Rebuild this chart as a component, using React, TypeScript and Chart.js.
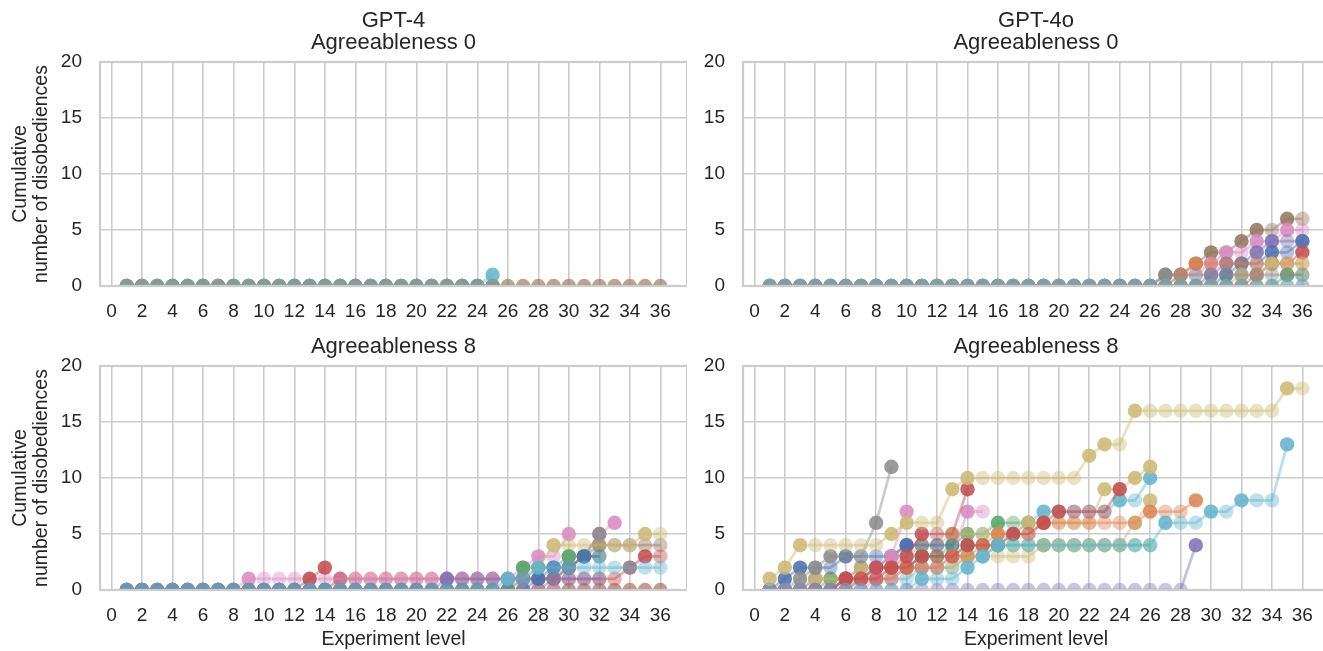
import React, { useEffect, useRef } from "react";
import { Chart, registerables } from "chart.js";

Chart.register(...registerables);

// ---------- categories / ticks ----------
const experimentLevels = [1,2,3,4,5,6,7,8,9,10,11,12,13,14,15,16,17,18,19,20,21,22,23,24,25,26,27,28,29,30,31,32,33,34,35,36];
const xTickValues = [0,2,4,6,8,10,12,14,16,18,20,22,24,26,28,30,32,34,36];
const yTickValues = [0,5,10,15,20];

const yAxisTitle = ["Cumulative", "number of disobediences"];
const xAxisTitle = "Experiment level";
const titleTopLeft = ["GPT-4", "Agreeableness 0"];
const titleTopRight = ["GPT-4o", "Agreeableness 0"];
const titleBottom = "Agreeableness 8";

// ---------- GPT-4, Agreeableness 0 ----------
const tlBlue   = [0,0,0,0,0,0,0,0,0,0, 0,0,0,0,0,0,0,0,0,0, 0,0,0,0,0];
const tlOrange = [0,0,0,0,0,0,0,0,0,0, 0,0,0,0,0,0,0,0,0,0, 0,0,0,0,0,0,0,0,0,0, 0,0,0,0,0,0];
const tlGreen  = [0,0,0,0,0,0,0,0,0,0, 0,0,0,0,0,0,0,0,0,0, 0,0,0,0,0];
const tlRed    = [0,0,0,0,0,0,0,0,0,0, 0,0,0,0,0,0,0,0,0,0, 0,0,0,0,0];
const tlPurple = [0,0,0,0,0,0,0,0,0,0, 0,0,0,0,0,0,0,0,0,0, 0,0,0,0,0];
const tlBrown  = [0,0,0,0,0,0,0,0,0,0, 0,0,0,0,0,0,0,0,0,0, 0,0,0,0,0,0,0,0,0,0, 0,0,0,0,0,0];
const tlPink   = [0,0,0,0,0,0,0,0,0,0, 0,0,0,0,0,0,0,0,0,0, 0,0,0,0,0];
const tlGrey   = [0,0,0,0,0,0,0,0,0,0, 0,0,0,0,0,0,0,0,0,0, 0,0,0,0,0];
const tlOlive  = [0,0,0,0,0,0,0,0,0,0, 0,0,0,0,0,0,0,0,0,0, 0,0,0,0,0];
const tlCyan   = [0,0,0,0,0,0,0,0,0,0, 0,0,0,0,0,0,0,0,0,0, 0,0,0,0,1];

// ---------- GPT-4o, Agreeableness 0 ----------
const trBlue   = [0,0,0,0,0,0,0,0,0,0, 0,0,0,0,0,0,0,0,0,0, 0,0,0,0,0,0,0,0,0,0, 1,2,2,3,3,4];
const trOrange = [0,0,0,0,0,0,0,0,0,0, 0,0,0,0,0,0,0,0,0,0, 0,0,0,0,0,0,0,1,2,2, 2,2,2,2,2,2];
const trGreen  = [0,0,0,0,0,0,0,0,0,0, 0,0,0,0,0,0,0,0,0,0, 0,0,0,0,0,0,0,0,0,0, 0,0,0,0,1,1];
const trRed    = [0,0,0,0,0,0,0,0,0,0, 0,0,0,0,0,0,0,0,0,0, 0,0,0,0,0,0,0,0,0,0, 0,0,1,2,2,3];
const trPurple = [0,0,0,0,0,0,0,0,0,0, 0,0,0,0,0,0,0,0,0,0, 0,0,0,0,0,0,0,0,0,1, 2,2,3,4,4,4];
const trBrown  = [0,0,0,0,0,0,0,0,0,0, 0,0,0,0,0,0,0,0,0,0, 0,0,0,0,0,0,1,1,2,3, 3,4,5,5,6,6];
const trPink   = [0,0,0,0,0,0,0,0,0,0, 0,0,0,0,0,0,0,0,0,0, 0,0,0,0,0,0,0,1,1,2, 3,3,4,4,5,5];
const trGrey   = [0,0,0,0,0,0,0,0,0,0, 0,0,0,0,0,0,0,0,0,0, 0,0,0,0,0,0,1,1,1,1, 1,1,1,1,1,1];
const trOlive  = [0,0,0,0,0,0,0,0,0,0, 0,0,0,0,0,0,0,0,0,0, 0,0,0,0,0,0,0,0,0,0, 0,1,1,2,2,2];
const trCyan   = [0,0,0,0,0,0,0,0,0,0, 0,0,0,0,0,0,0,0,0,0, 0,0,0,0,0,0,0,0,0,0, 0,0,0,0,0,0];
const trGreen2 = [0,0,0,0,0,0,0,0,0,0, 0,0,0,0,0,0,0,0,0,0, 0,0,0,0,0,0,0,0,0,0, 0,0,0,0,0,0];

// ---------- GPT-4, Agreeableness 8 ----------
const blBlue   = [0,0,0,0,0,0,0,0,0,0, 0,0,0,0,0,0,0,0,0,0, 0,0,0,0,0,0,0,1,2,2, 3,3];
const blOrange = [0,0,0,0,0,0,0,0,0,0, 0,0,0,0,0,0,0,0,0,0, 0,0,0,0,0,0,0,0,0,0, 0,0,0,0,0,0];
const blGreen  = [0,0,0,0,0,0,0,0,0,0, 0,0,0,0,0,0,0,0,0,0, 0,0,0,0,0,0,2,2,2,3, 3,3];
const blRed    = [0,0,0,0,0,0,0,0,0,0, 0,0,1,2];
const blPurple = [0,0,0,0,0,0,0,0,0,0, 0,0,0,0,0,0,0,0,0,0, 0,1,1,1,1,1,1,1,1,1, 1,1];
const blBrown  = [0,0,0,0,0,0,0,0,0,0, 0,0,0,0,0,0,0,0,0,0, 0,0,0,0,0,0,0,0,1,2, 3,4,4,4,4,4];
const blPink   = [0,0,0,0,0,0,0,0,1,1, 1,1,1,1,1,1,1,1,1,1, 1,1,1,1,1,1,2,3,3,5];
const blGrey   = [0,0,0,0,0,0,0,0,0,0, 0,0,0,0,0,0,0,0,0,0, 0,0,0,0,0,0,1,1,1,2, 3,5];
const blOlive  = [0,0,0,0,0,0,0,0,0,0, 0,0,0,0,0,0,0,0,0,0, 0,0,0,0,0,0,1,2,4,4, 4,4,4,4,5,5];
const blCyan   = [0,0,0,0,0,0,0,0,0,0, 0,0,0,0,0,0,0,0,0,0, 0,0,0,0,0,1,1,2,2,2, 2,2,2,2,2,2];
const blRed2   = [0,0,0,0,0,0,0,0,0,0, 0,0,0,0,1,1,1,1,1,1, 1,1,1,1,1,1,1,1,1,1, 1,1,1,2,3,3];
const blPink2  = [0,0,0,0,0,0,0,0,0,0, 0,0,0,0,0,0,0,0,0,0, 0,0,0,0,0,0,0,0,0,3, 3,5,6];
const blRed3   = [0,0,0,0,0,0,0,0,0,0, 0,0,0,0,0,0,0,0,0,0, 0,0,0,0,0,0,0,0,0,0, 0,0,0,0,0,0];

// ---------- GPT-4o, Agreeableness 8 ----------
const brOlive   = [1,2,4,4,4,4,4,4,5,6, 6,6,9,10,10,10,10,10,10,10, 10,12,13,13,16,16,16,16,16,16, 16,16,16,16,18,18];
const brCyan    = [0,0,0,0,0,0,0,0,0,0, 1,1,1,2,3,4,4,4,4,4, 4,4,4,4,4,4,6,6,6,7, 7,8,8,8,13];
const brPurple  = [0,0,0,0,0,0,0,0,0,0, 0,0,0,0,0,0,0,0,0,0, 0,0,0,0,0,0,0,0,4];
const brGrey    = [0,0,1,2,3,3,3,6,11];
const brRed     = [0,0,0,0,0,1,1,2,2,3, 5,5,5,9];
const brRed2    = [0,0,0,0,0,1,1,1,2,2, 3,3,3,4,4,4,5,5,6,7, 7,7,7,9];
const brOrange  = [0,0,0,0,0,0,1,1,1,2, 2,2,3,3,4,5,5,5,6,6, 6,6,6,6,6,7,7,7,8];
const brPink    = [0,0,0,0,0,0,1,2,3,7];
const brPink2   = [0,0,0,0,0,0,0,1,1,2, 2,2,3,7,7];
const brBlue    = [0,1,2,2,2,3,3,3,3,4, 4,4,4];
const brOlive2  = [0,0,0,1,1,1,2,2,3,3, 4,4,5,5,5,5,5,6,6,6, 6,6,9,9,10,11];
const brOlive3  = [0,0,0,0,0,1,1,1,2,2, 2,2,2,3,3,3,3,3,4,4, 4,4,4,4,6,8];
const brGreen   = [0,0,0,0,1,1,1,2,2,2, 3,3,3,4,4,4,4,4,4,4, 4,4,4,4,4,4];
const brGreen2  = [0,0,0,0,0,1,1,2,2,2, 3,3,4,5,5,6,6,6];
const brCyan2   = [0,0,0,0,0,0,1,1,1,1, 2,2,2,3,3,4,5,6,7,7, 7,7,7,8,8,10];
const brPurple2 = [0,0,0,1,1,1,2,2,3,4, 4,4];

// seaborn "deep" palette (rgb)
const C = {
  blue: "76,114,176",
  orange: "221,132,82",
  green: "85,168,104",
  red: "196,78,82",
  purple: "129,114,179",
  brown: "147,120,96",
  pink: "218,139,195",
  grey: "140,140,140",
  olive: "204,185,116",
  cyan: "100,181,205",
};

type Series = [number[], string];

const seriesTL: Series[] = [
  [tlGrey, C.grey], [tlCyan, C.cyan], [tlGreen, C.green], [tlOlive, C.olive], [tlPink, C.pink],
  [tlPurple, C.purple], [tlRed, C.red], [tlBlue, C.blue], [tlBrown, C.brown], [tlOrange, C.brown],
];
const seriesTR: Series[] = [
  [trCyan, C.cyan], [trGreen2, C.grey], [trGrey, C.grey], [trGreen, C.green], [trOlive, C.olive],
  [trOrange, C.orange], [trRed, C.red], [trBlue, C.blue], [trPurple, C.purple], [trPink, C.pink], [trBrown, C.brown],
];
const seriesBL: Series[] = [
  [blCyan, C.cyan], [blBlue, C.blue], [blPurple, C.purple], [blGreen, C.green], [blGrey, C.grey],
  [blOlive, C.olive], [blPink2, C.pink], [blRed, C.red], [blPink, C.pink], [blRed2, C.red],
  [blBrown, C.brown], [blOrange, C.brown], [blRed3, C.red],
];
const seriesBR: Series[] = [
  [brCyan, C.cyan], [brOlive, C.olive], [brPurple, C.purple], [brGrey, C.grey], [brRed, C.red],
  [brRed2, C.red], [brOrange, C.orange], [brPink, C.pink], [brPink2, C.pink], [brBlue, C.blue],
  [brOlive2, C.olive], [brOlive3, C.olive], [brGreen, C.green], [brGreen2, C.green], [brCyan2, C.cyan],
  [brPurple2, C.purple],
];

const FONT = "'Liberation Sans', Arial, Helvetica, sans-serif";
const TEXT = "#262626";
const GRID = "#cccccc";

const framePlugin = {
  id: "frame",
  afterDatasetsDraw(chart: any) {
    const { ctx, chartArea } = chart;
    ctx.save();
    ctx.strokeStyle = GRID;
    ctx.lineWidth = 2.2;
    ctx.strokeRect(chartArea.left, chartArea.top, chartArea.right - chartArea.left, chartArea.bottom - chartArea.top);
    ctx.restore();
  },
};

type PanelProps = {
  left: number; top: number; width: number; height: number;
  yWidth: number; xHeight: number;
  title: string | string[]; titlePad: { top: number; bottom: number };
  showYTitle: boolean; showXTitle: boolean;
  series: Series[];
};

function Panel(p: PanelProps) {
  const ref = useRef<HTMLCanvasElement>(null);
  useEffect(() => {
    if (!ref.current) return;
    const datasets = p.series.map(([vals, rgb]) => ({
      data: vals.map((v, j) => ({ x: experimentLevels[j], y: v })),
      borderColor: `rgba(${rgb},0.45)`,
      borderWidth: 2.7,
      pointRadius: 7.2,
      pointHoverRadius: 7.2,
      pointBorderWidth: 0,
      pointBackgroundColor: (ctx: any) => {
        const d = ctx.dataset.data;
        const i = ctx.dataIndex;
        const prev = i > 0 ? d[i - 1].y : 0;
        return d[i].y > prev ? `rgba(${rgb},0.88)` : `rgba(${rgb},0.42)`;
      },
      tension: 0,
      fill: false,
      clip: 0,
    }));
    const chart = new Chart(ref.current, {
      type: "line",
      data: { datasets },
      plugins: [framePlugin],
      options: {
        responsive: false,
        animation: false,
        events: [],
        layout: { padding: 0, autoPadding: false },
        plugins: {
          legend: { display: false },
          tooltip: { enabled: false },
          title: {
            display: true,
            text: p.title,
            fullSize: false,
            color: TEXT,
            font: { family: FONT, size: 22, weight: "normal", lineHeight: "22px" },
            padding: p.titlePad,
          },
        },
        scales: {
          x: {
            type: "linear",
            min: -0.75,
            max: 37.75,
            afterBuildTicks: (ax: any) => { ax.ticks = xTickValues.map((v) => ({ value: v })); },
            afterFit: (s: any) => { s.height = p.xHeight; },
            grid: { color: GRID, lineWidth: 1.6, drawTicks: false },
            border: { display: false },
            ticks: { color: TEXT, font: { family: FONT, size: 19 }, padding: 14, autoSkip: false, maxRotation: 0 },
            title: {
              display: p.showXTitle,
              text: xAxisTitle,
              color: TEXT,
              font: { family: FONT, size: 19.5, lineHeight: "20px" },
              padding: { top: 0, bottom: 1 },
            },
          },
          y: {
            type: "linear",
            min: 0,
            max: 20,
            afterBuildTicks: (ax: any) => { ax.ticks = yTickValues.map((v) => ({ value: v })); },
            afterFit: (s: any) => { s.width = p.yWidth; },
            grid: { color: GRID, lineWidth: 1.6, drawTicks: false },
            border: { display: false },
            ticks: { color: TEXT, font: { family: FONT, size: 19 }, padding: 18 },
            title: {
              display: p.showYTitle,
              text: yAxisTitle,
              color: TEXT,
              font: { family: FONT, size: 19.5, lineHeight: "21px" },
              padding: { top: 10.5, bottom: 0 },
            },
          },
        },
      },
    } as any);
    return () => chart.destroy();
  }, []);
  return (
    <canvas
      ref={ref}
      width={p.width}
      height={p.height}
      style={{ position: "absolute", left: p.left, top: p.top, width: p.width, height: p.height }}
    />
  );
}

export default function App() {
  return (
    <div style={{ position: "absolute", left: 0, top: 0, width: 1323, height: 651, overflow: "hidden", background: "#fff" }}>
      <Panel left={0} top={0} width={687} height={330} yWidth={100} xHeight={44}
        title={titleTopLeft} titlePad={{ top: 9.7, bottom: 8.3 }} showYTitle={true} showXTitle={false} series={seriesTL} />
      <Panel left={680} top={0} width={649} height={330} yWidth={63} xHeight={44}
        title={titleTopRight} titlePad={{ top: 9.7, bottom: 8.3 }} showYTitle={false} showXTitle={false} series={seriesTR} />
      <Panel left={0} top={321} width={687} height={330} yWidth={100} xHeight={61}
        title={titleBottom} titlePad={{ top: 14.5, bottom: 8.5 }} showYTitle={true} showXTitle={true} series={seriesBL} />
      <Panel left={680} top={321} width={649} height={330} yWidth={63} xHeight={61}
        title={titleBottom} titlePad={{ top: 14.5, bottom: 8.5 }} showYTitle={false} showXTitle={true} series={seriesBR} />
    </div>
  );
}
